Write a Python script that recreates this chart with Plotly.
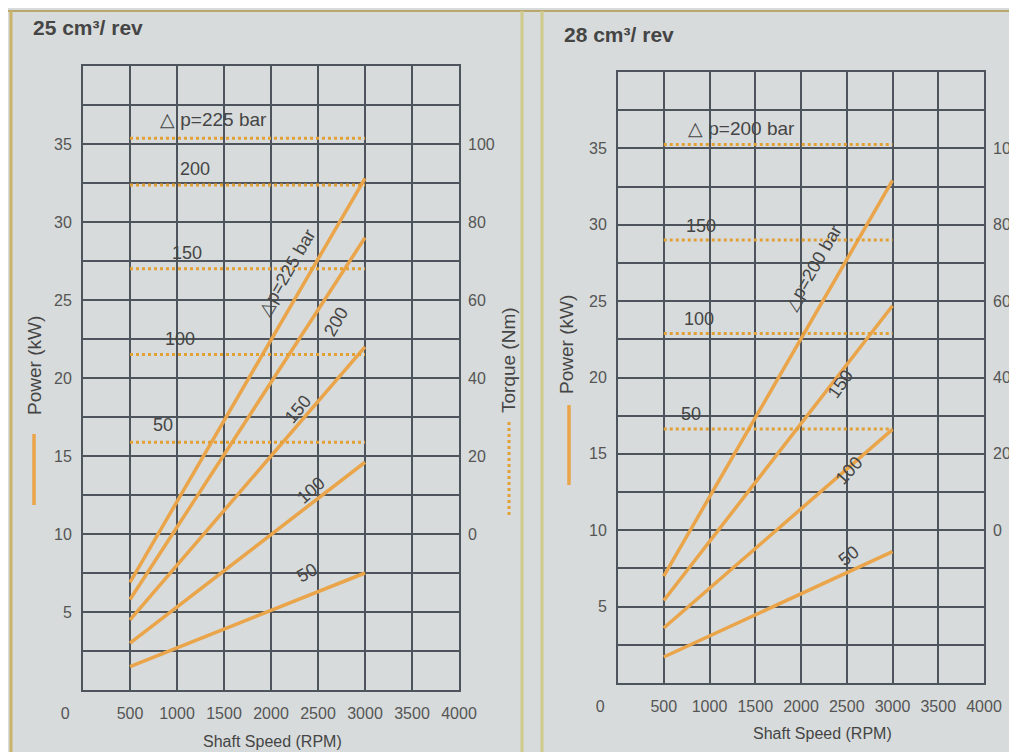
import plotly.graph_objects as go

# ---------------- data ----------------
speed_range = [500, 3000]          # rpm, start / end of every curve
x_ticks = [0, 500, 1000, 1500, 2000, 2500, 3000, 3500, 4000]
x_tick_text = ["0" + "\u00a0" * 8, "500", "1000", "1500", "2000", "2500", "3000", "3500", "4000"]
power_ticks = [5, 10, 15, 20, 25, 30, 35]
torque_ticks = [0, 20, 40, 60, 80, 100]

# 25 cm3/rev panel
dp25 = ["225", "200", "150", "100", "50"]
power25_start = [6.9, 5.8, 4.5, 3.0, 1.5]
power25_end = [32.8, 29.0, 22.0, 14.6, 7.5]
torque25 = [101.5, 89.5, 68.0, 46.0, 23.5]

# 28 cm3/rev panel
dp28 = ["200", "150", "100", "50"]
power28_start = [7.0, 5.4, 3.6, 1.7]
power28_end = [32.9, 24.7, 16.6, 8.6]
torque28 = [101.0, 76.0, 51.5, 26.5]

# ---------------- style ----------------
OFF = 8  # page body margin
W, H = 1017 - OFF, 752 - OFF
BG = "#d7dbdb"
GRID = "#4d545b"
ORANGE = "#eaa54a"
DOT = "#e3a035"
TXT = "#454545"
FONT = "Liberation Sans"


def px(x):
    return (x - OFF) / W


def py(y):
    return 1 - (y - OFF) / H


fig = go.Figure()

panels = [
    dict(xa="x", ya="y", ta="y2", dp=dp25, ps=power25_start, pe=power25_end, tq=torque25),
    dict(xa="x2", ya="y3", ta="y4", dp=dp28, ps=power28_start, pe=power28_end, tq=torque28),
]

for p in panels:
    for i, d in enumerate(p["dp"]):
        fig.add_trace(go.Scatter(
            x=speed_range, y=[p["ps"][i], p["pe"][i]], mode="lines",
            line=dict(color=ORANGE, width=3.5), xaxis=p["xa"], yaxis=p["ya"],
            showlegend=False, hoverinfo="skip"))
        fig.add_trace(go.Scatter(
            x=speed_range, y=[p["tq"][i], p["tq"][i]], mode="lines",
            line=dict(color=DOT, width=3, dash="dot"), xaxis=p["xa"], yaxis=p["ta"],
            showlegend=False, hoverinfo="skip"))

tickfont = dict(family=FONT, size=16, color="#555555")

xax = dict(range=[0, 4000], tickvals=x_ticks, ticktext=x_tick_text,
           showgrid=True, gridcolor=GRID, gridwidth=2,
           zeroline=False, showline=True, linecolor=GRID, linewidth=2, mirror=True,
           ticks="", tickfont=tickfont, ticklabelstandoff=8, automargin=False,
           fixedrange=True)
yax = dict(range=[0, 40], tickvals=power_ticks, showgrid=True, gridcolor=GRID, gridwidth=2,
           minor=dict(dtick=2.5, showgrid=True, gridcolor=GRID, gridwidth=2),
           zeroline=False, showline=True, linecolor=GRID, linewidth=2, mirror=True,
           ticks="", tickfont=tickfont, ticklabelstandoff=6, automargin=False)
tax = dict(range=[-40, 120], tickvals=torque_ticks, showgrid=False, zeroline=False,
           side="right", ticks="", tickfont=tickfont, ticklabelstandoff=8,
           automargin=False)

L_dom_x = [px(83), px(459)]
L_dom_y = [py(690), py(66)]
R_dom_x = [px(618), px(984)]
R_dom_y = [py(683), py(72)]

fig.update_layout(
    width=W, height=H,
    margin=dict(l=0, r=0, t=0, b=0),
    paper_bgcolor=BG, plot_bgcolor=BG,
    xaxis=dict(xax, domain=L_dom_x, anchor="y"),
    yaxis=dict(yax, domain=L_dom_y, anchor="x"),
    yaxis2=dict(tax, overlaying="y", anchor="x"),
    xaxis2=dict(xax, domain=R_dom_x, anchor="y3"),
    yaxis3=dict(yax, domain=R_dom_y, anchor="x2"),
    yaxis4=dict(tax, overlaying="y3", anchor="x2"),
    font=dict(family=FONT, color=TXT),
)


def paper_text(x, y, text, size, angle=0, xanchor="center"):
    return dict(x=px(x), y=py(y), xref="paper", yref="paper", text=text,
                textangle=angle, showarrow=False, xanchor=xanchor, yanchor="middle",
                font=dict(size=size, color=TXT, family=FONT))


ann = []
# panel titles
ann.append(paper_text(31, 28, "<b>25 cm³/ rev</b>", 21, xanchor="left"))
ann.append(paper_text(562, 35, "<b>28 cm³/ rev</b>", 21, xanchor="left"))
# axis titles
ann.append(paper_text(272, 741, "Shaft Speed (RPM)", 16))
ann.append(paper_text(822, 733, "Shaft Speed (RPM)", 16))
ann.append(paper_text(34, 366, "Power (kW)", 19, angle=-90))
ann.append(paper_text(567, 345, "Power (kW)", 19, angle=-90))
ann.append(paper_text(508, 360, "Torque (Nm)", 19, angle=-90))

# torque level labels (horizontal)
lab_fs = 18
t25_pos = [(1390, 36.6), (1195, 33.4), (1110, 28.0), (1035, 22.5), (850, 17.0)]
for i, d in enumerate(dp25):
    txt = "△ p=" + d + " bar" if i == 0 else d
    ann.append(dict(x=t25_pos[i][0], y=t25_pos[i][1], xref="x", yref="y", text=txt,
                    showarrow=False, xanchor="center", yanchor="middle",
                    font=dict(size=19 if i == 0 else lab_fs, color=TXT, family=FONT)))
t28_pos = [(1350, 36.3), (905, 29.9), (880, 23.8), (800, 17.6)]
for i, d in enumerate(dp28):
    txt = "△ p=" + d + " bar" if i == 0 else d
    ann.append(dict(x=t28_pos[i][0], y=t28_pos[i][1], xref="x2", yref="y3", text=txt,
                    showarrow=False, xanchor="center", yanchor="middle",
                    font=dict(size=19 if i == 0 else lab_fs, color=TXT, family=FONT)))

# power line labels (rotated along the lines)
p25_pos = [(2170, 26.8, -60), (2690, 23.6, -60), (2290, 18.0, -50), (2430, 12.8, -42), (2380, 7.5, -30)]
for i, d in enumerate(dp25):
    txt = "△p=" + d + " bar" if i == 0 else d
    ann.append(dict(x=p25_pos[i][0], y=p25_pos[i][1], xref="x", yref="y", text=txt,
                    textangle=p25_pos[i][2], showarrow=False, xanchor="center", yanchor="middle",
                    font=dict(size=lab_fs, color=TXT, family=FONT)))
p28_pos = [(2130, 27.2, -60), (2430, 19.6, -55), (2520, 13.9, -48), (2520, 8.3, -38)]
for i, d in enumerate(dp28):
    txt = "△p=" + d + " bar" if i == 0 else d
    ann.append(dict(x=p28_pos[i][0], y=p28_pos[i][1], xref="x2", yref="y3", text=txt,
                    textangle=p28_pos[i][2], showarrow=False, xanchor="center", yanchor="middle",
                    font=dict(size=lab_fs, color=TXT, family=FONT)))

fig.update_layout(annotations=ann)

shapes = [
    # yellowish frame lines
    dict(type="line", xref="paper", yref="paper", x0=0, x1=1, y0=py(11), y1=py(11),
         line=dict(color="#b9a86a", width=2)),
    dict(type="line", xref="paper", yref="paper", x0=px(11), x1=px(11), y0=0, y1=py(11),
         line=dict(color="#c9b46a", width=3)),
    dict(type="line", xref="paper", yref="paper", x0=px(522), x1=px(522), y0=0, y1=py(11),
         line=dict(color="#cfc98a", width=3)),
    dict(type="line", xref="paper", yref="paper", x0=px(542), x1=px(542), y0=0, y1=py(11),
         line=dict(color="#cfc98a", width=3)),
    # legend swatches next to axis titles
    dict(type="line", xref="paper", yref="paper", x0=px(34), x1=px(34), y0=py(434), y1=py(505),
         line=dict(color=ORANGE, width=3.5)),
    dict(type="line", xref="paper", yref="paper", x0=px(569), x1=px(569), y0=py(405), y1=py(485),
         line=dict(color=ORANGE, width=3.5)),
    dict(type="line", xref="paper", yref="paper", x0=px(509), x1=px(509), y0=py(422), y1=py(515),
         line=dict(color=DOT, width=3, dash="dot")),
]
fig.update_layout(shapes=shapes)

fig.write_html("out.html")
